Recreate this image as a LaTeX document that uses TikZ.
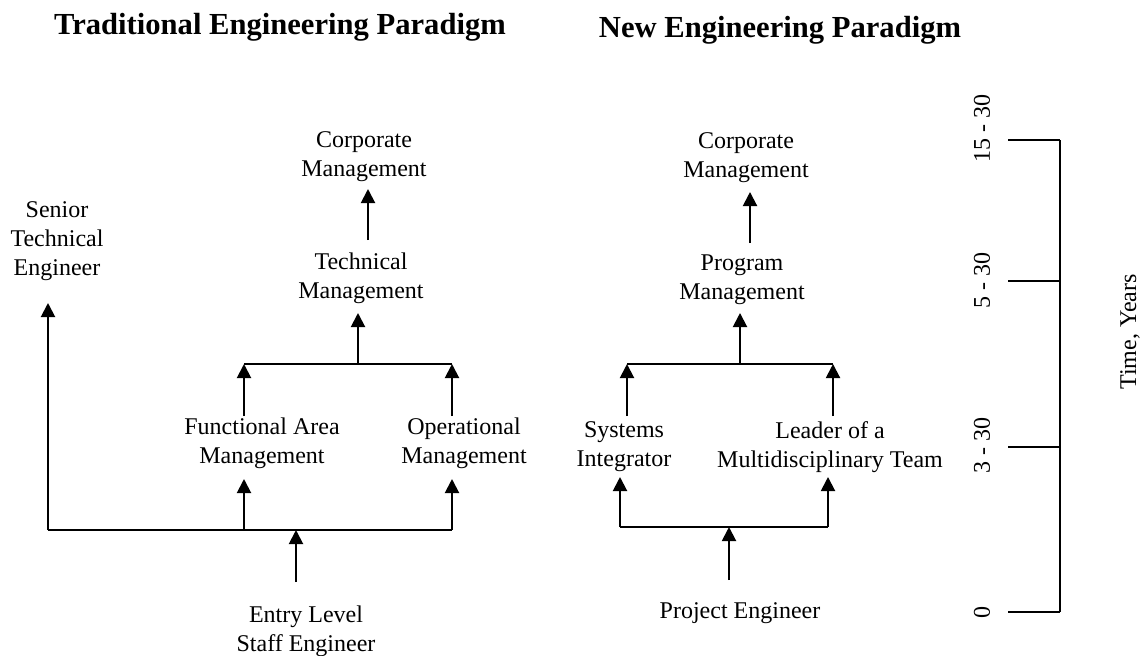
\documentclass[tikz,border=0pt]{standalone}
\usepackage{fontspec}
\setmainfont{Liberation Serif}
\usetikzlibrary{arrows.meta}

\begin{document}
\begin{tikzpicture}[x=0.5pt,y=-0.5pt]
        \tikzstyle{txt}=[align=center,inner sep=0pt,font=\fontsize{12}{14.5}\selectfont]
        \tikzstyle{heading}=[anchor=base,inner sep=0pt,font=\fontsize{15.3}{18}\selectfont\bfseries]
        \tikzstyle{bar}=[line width=1pt]
        \tikzstyle{up}=[line width=1pt,-{Triangle[length=7pt,width=7pt]}]
        \useasboundingbox (0,0) rectangle (1143,655);
        % Headings
        \node[heading] (hTrad) at (280,34) {Traditional Engineering Paradigm};
        \node[heading] (hNew) at (780,37) {New Engineering Paradigm};
        % Traditional career ladder
        \node[txt] (corpT) at (364,157) {Corporate\\Management};
        \node[txt] (techT) at (361,278) {Technical\\Management};
        \node[txt] (senior) at (57,241) {Senior\\Technical\\Engineer};
        \node[txt] (func) at (262,443) {Functional Area\\Management};
        \node[txt] (oper) at (464,443) {Operational\\Management};
        \node[txt] (entry) at (306,631) {Entry Level\\Staff Engineer};
        % arrow ends and bar corners
        \coordinate (corpT-in) at (368,189);
        \coordinate (techT-out) at (368,240);
        \coordinate (techT-in) at (358,313);
        \coordinate (midT) at (358,364);
        \coordinate (midTL) at (244,364);
        \coordinate (midTR) at (452,364);
        \coordinate (func-out) at (244,416);
        \coordinate (oper-out) at (452,416);
        \coordinate (func-in) at (244,479);
        \coordinate (oper-in) at (452,479);
        \coordinate (senior-in) at (48,303);
        \coordinate (lowTL) at (48,530);
        \coordinate (lowTF) at (244,530);
        \coordinate (lowTR) at (452,530);
        \coordinate (lowT) at (296,530);
        \coordinate (entry-out) at (296,582);
        % Draw connectors
        \draw[up] (techT-out) -- (corpT-in);
        \draw[up] (midT) -- (techT-in);
        \draw[bar] (midTL) -- (midTR);
        \draw[up] (func-out) -- (midTL);
        \draw[up] (oper-out) -- (midTR);
        \draw[bar] (lowTL) -- (lowTR);
        \draw[up] (lowTL) -- (senior-in);
        \draw[up] (lowTF) -- (func-in);
        \draw[up] (lowTR) -- (oper-in);
        \draw[up] (entry-out) -- (lowT);
        % New career ladder
        \node[txt] (corpN) at (746,158) {Corporate\\Management};
        \node[txt] (prog) at (742,280) {Program\\Management};
        \node[txt] (sys) at (624,447) {Systems\\Integrator};
        \node[txt] (lead) at (830,447) {Leader of a\\Multidisciplinary Team};
        \node[txt] (proj) at (740,613) {Project Engineer};
        % arrow ends and bar corners
        \coordinate (corpN-in) at (750,192);
        \coordinate (prog-out) at (750,243);
        \coordinate (prog-in) at (740,313);
        \coordinate (midN) at (740,364);
        \coordinate (midNL) at (627,364);
        \coordinate (midNR) at (833,364);
        \coordinate (sys-out) at (627,416);
        \coordinate (lead-out) at (833,416);
        \coordinate (sys-in) at (620,477);
        \coordinate (lead-in) at (828,477);
        \coordinate (lowNL) at (620,527);
        \coordinate (lowNR) at (828,527);
        \coordinate (lowN) at (729,527);
        \coordinate (proj-out) at (729,580);
        % Draw connectors
        \draw[up] (prog-out) -- (corpN-in);
        \draw[up] (midN) -- (prog-in);
        \draw[bar] (midNL) -- (midNR);
        \draw[up] (sys-out) -- (midNL);
        \draw[up] (lead-out) -- (midNR);
        \draw[bar] (lowNL) -- (lowNR);
        \draw[up] (lowNL) -- (sys-in);
        \draw[up] (lowNR) -- (lead-in);
        \draw[up] (proj-out) -- (lowN);
        % Time axis with ticks
        \coordinate (axTop) at (1060,140);
        \coordinate (axBot) at (1060,612);
        \draw[bar] (axTop) -- (axBot);
        \foreach \y/\ly/\t/\n in {140/128/15 - 30/yrA, 281/280/5 - 30/yrB, 447/445/3 - 30/yrC, 612/612/0/yrD}{
            \coordinate (\n-tick) at (1008,\y);
            \draw[bar] (\n-tick) -- (\n-tick -| axTop);
            \node[txt,rotate=90] (\n) at (982,\ly) {\t};
        }
        \node[txt,rotate=90] (timeAx) at (1130,332) {Time, Years};
    \end{tikzpicture}
\end{document}
